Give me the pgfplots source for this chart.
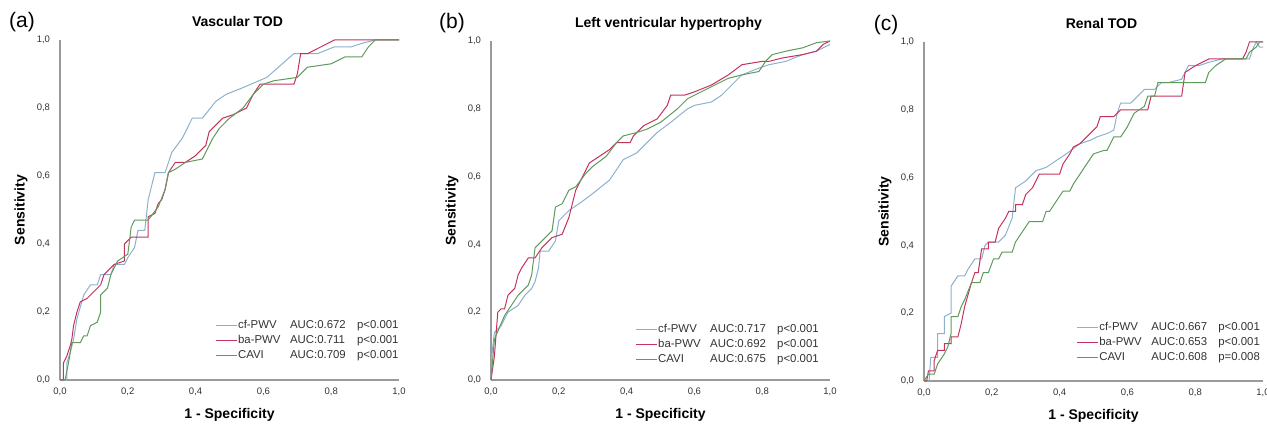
\documentclass[border=0pt]{standalone}
\usepackage{pgfplots}
\pgfplotsset{compat=1.18}
\usepackage{fontspec}
\setmainfont{Liberation Sans}
\definecolor{cfc}{HTML}{8DB0CC}
\definecolor{bac}{HTML}{C4325E}
\definecolor{cac}{HTML}{5E9A5C}
\definecolor{axc}{HTML}{9A9A9A}
\definecolor{txc}{HTML}{333333}
\pgfplotsset{
  rocax/.style={
    scale only axis, anchor=south west, clip=false,
    xmin=0, xmax=1, ymin=0, ymax=1,
    axis lines*=left,
    axis line style={axc, line width=1.1pt},
    major tick length=0pt,
    xtick={0,0.2,0.4,0.6,0.8,1}, ytick={0,0.2,0.4,0.6,0.8,1},
    /pgf/number format/.cd, assume math mode=true, use comma, fixed, fixed zerofill, precision=1, /pgfplots/.cd,
    tick label style={font=\fontsize{9.5}{11}\selectfont, text=txc},
    xticklabel style={yshift=-4.5pt},
    yticklabel style={xshift=-6.5pt},
    title style={at={(rel axis cs:0.5,1)}, anchor=base, yshift=7pt, xshift=8pt, font=\bfseries\fontsize{14}{16}\selectfont},
    xlabel style={at={(axis description cs:0.5,-0.103)}, anchor=center, font=\bfseries\fontsize{14}{16}\selectfont},
    ylabel style={at={(axis description cs:-0.115,0.5)}, anchor=center, font=\bfseries\fontsize{14}{16}\selectfont},
    xlabel={1 - Specificity}, ylabel={Sensitivity},
    legend cell align=left,
    legend image code/.code={\draw[#1] (0pt,0pt) -- (21pt,0pt);},
    legend style={draw=none, fill=none, font=\fontsize{11.4}{13}\selectfont, text=txc,
      nodes={inner sep=1pt, text height=8pt, text depth=2.5pt}, row sep=2.5pt},
  },
  cf/.style={cfc, line width=1pt},
  ba/.style={bac, line width=1pt},
  ca/.style={cac, line width=1pt},
}
\newcommand{\legrow}[3]{\makebox[52pt][l]{#1}\makebox[67pt][l]{#2}#3}
\begin{document}
\begin{tikzpicture}
\useasboundingbox (0,0) rectangle (1267pt,425pt);
% ---------------- (a)
\begin{axis}[rocax, at={(60pt,45pt)}, width=339pt, height=340pt, title={Vascular TOD},
  legend style={at={(rel axis cs:0.448,0.185)}, anchor=north west}]
\addplot[cf] coordinates {(0,0)(0.02,0)(0.02,0.05)(0.03,0.08)(0.04,0.12)(0.05,0.18)(0.07,0.25)(0.09,0.28)(0.11,0.28)(0.12,0.31)(0.15,0.31)(0.16,0.34)(0.19,0.34)(0.2,0.36)(0.22,0.39)(0.23,0.44)(0.25,0.44)(0.26,0.53)(0.27,0.57)(0.28,0.61)(0.31,0.61)(0.33,0.67)(0.36,0.71)(0.39,0.77)(0.42,0.77)(0.46,0.82)(0.49,0.84)(0.54,0.86)(0.61,0.89)(0.69,0.96)(0.76,0.96)(0.81,0.98)(0.86,0.98)(0.89,0.99)(0.93,1.0)(1,1)};
\addplot[ba] coordinates {(0,0)(0.01,0)(0.01,0.05)(0.02,0.07)(0.03,0.10)(0.035,0.12)(0.04,0.16)(0.05,0.20)(0.06,0.23)(0.08,0.24)(0.09,0.25)(0.11,0.27)(0.12,0.28)(0.13,0.31)(0.16,0.34)(0.19,0.35)(0.19,0.40)(0.21,0.42)(0.26,0.42)(0.26,0.48)(0.28,0.49)(0.29,0.52)(0.30,0.53)(0.31,0.56)(0.32,0.61)(0.34,0.64)(0.37,0.64)(0.40,0.66)(0.43,0.69)(0.44,0.73)(0.46,0.75)(0.48,0.77)(0.51,0.78)(0.55,0.80)(0.57,0.84)(0.59,0.87)(0.63,0.87)(0.69,0.87)(0.70,0.90)(0.71,0.96)(0.73,0.96)(0.79,0.99)(0.81,1.0)(1,1)};
\addplot[ca] coordinates {(0,0)(0.015,0)(0.025,0.05)(0.03,0.08)(0.035,0.11)(0.06,0.11)(0.07,0.13)(0.08,0.13)(0.09,0.16)(0.11,0.17)(0.12,0.20)(0.12,0.25)(0.14,0.27)(0.15,0.31)(0.17,0.35)(0.2,0.37)(0.21,0.45)(0.22,0.47)(0.26,0.47)(0.29,0.51)(0.31,0.56)(0.32,0.61)(0.34,0.62)(0.37,0.64)(0.42,0.65)(0.45,0.71)(0.47,0.74)(0.50,0.77)(0.54,0.80)(0.57,0.84)(0.60,0.87)(0.63,0.88)(0.70,0.89)(0.73,0.92)(0.80,0.93)(0.84,0.95)(0.89,0.95)(0.91,0.98)(0.93,1.0)(1,1)};
\legend{\legrow{cf-PWV}{AUC:0.672}{p<0.001},\legrow{ba-PWV}{AUC:0.711}{p<0.001},\legrow{CAVI}{AUC:0.709}{p<0.001}}
\node[font=\fontsize{21}{24}\selectfont] at (rel axis cs:-0.112,1.053) {(a)};
\end{axis}
% ---------------- (b)
\begin{axis}[rocax, at={(491pt,45pt)}, width=339pt, height=339pt, title={Left ventricular hypertrophy},
  legend style={at={(rel axis cs:0.416,0.174)}, anchor=north west}]
\addplot[cf] coordinates {(0,0)(0.002,0.07)(0.01,0.14)(0.03,0.16)(0.05,0.2)(0.08,0.22)(0.1,0.25)(0.12,0.27)(0.13,0.29)(0.14,0.33)(0.145,0.38)(0.17,0.38)(0.19,0.41)(0.2,0.47)(0.23,0.50)(0.26,0.52)(0.30,0.55)(0.35,0.59)(0.39,0.65)(0.43,0.67)(0.46,0.70)(0.49,0.73)(0.53,0.76)(0.58,0.80)(0.60,0.81)(0.65,0.82)(0.68,0.84)(0.74,0.90)(0.79,0.92)(0.82,0.93)(0.87,0.94)(0.92,0.96)(0.96,0.97)(0.99,0.985)(1,0.99)};
\addplot[ba] coordinates {(0,0)(0.01,0.07)(0.02,0.2)(0.03,0.21)(0.04,0.21)(0.05,0.25)(0.07,0.27)(0.08,0.31)(0.09,0.33)(0.11,0.36)(0.13,0.36)(0.15,0.39)(0.18,0.42)(0.21,0.43)(0.23,0.48)(0.25,0.56)(0.27,0.60)(0.29,0.64)(0.32,0.66)(0.35,0.68)(0.37,0.70)(0.41,0.70)(0.42,0.72)(0.45,0.75)(0.49,0.77)(0.52,0.81)(0.53,0.84)(0.57,0.84)(0.60,0.85)(0.65,0.87)(0.70,0.90)(0.74,0.93)(0.80,0.94)(0.82,0.94)(0.86,0.95)(0.92,0.96)(0.96,0.97)(0.98,0.99)(1,1)};
\addplot[ca] coordinates {(0,0)(0.01,0.12)(0.04,0.19)(0.06,0.22)(0.08,0.25)(0.11,0.28)(0.12,0.31)(0.13,0.39)(0.15,0.41)(0.18,0.44)(0.19,0.51)(0.21,0.52)(0.23,0.56)(0.25,0.57)(0.28,0.61)(0.30,0.63)(0.34,0.66)(0.37,0.70)(0.39,0.72)(0.43,0.73)(0.46,0.74)(0.50,0.76)(0.55,0.80)(0.58,0.83)(0.62,0.85)(0.66,0.87)(0.70,0.89)(0.74,0.90)(0.79,0.91)(0.81,0.94)(0.83,0.96)(0.87,0.97)(0.92,0.98)(0.96,0.995)(1,1)};
\legend{\legrow{cf-PWV}{AUC:0.717}{p<0.001},\legrow{ba-PWV}{AUC:0.692}{p<0.001},\legrow{CAVI}{AUC:0.675}{p<0.001}}
\node[font=\fontsize{21}{24}\selectfont] at (rel axis cs:-0.115,1.053) {(b)};
\end{axis}
% ---------------- (c)
\begin{axis}[rocax, at={(924pt,44pt)}, width=339pt, height=339pt, title={Renal TOD},
  legend style={at={(rel axis cs:0.44,0.183)}, anchor=north west}]
\addplot[cf] coordinates {(0,0)(0.015,0)(0.02,0.07)(0.04,0.07)(0.04,0.14)(0.06,0.14)(0.06,0.19)(0.08,0.20)(0.08,0.28)(0.10,0.31)(0.12,0.31)(0.13,0.33)(0.15,0.36)(0.17,0.36)(0.18,0.40)(0.19,0.41)(0.22,0.41)(0.24,0.43)(0.26,0.48)(0.27,0.57)(0.30,0.59)(0.33,0.62)(0.36,0.63)(0.39,0.65)(0.42,0.67)(0.46,0.70)(0.49,0.71)(0.51,0.72)(0.54,0.73)(0.56,0.74)(0.57,0.79)(0.58,0.82)(0.61,0.82)(0.65,0.86)(0.68,0.86)(0.70,0.88)(0.72,0.88)(0.76,0.89)(0.78,0.93)(0.81,0.93)(0.84,0.94)(0.88,0.95)(0.91,0.95)(0.96,0.95)(0.97,0.98)(0.98,1.0)(0.99,0.985)(1,0.985)};
\addplot[ba] coordinates {(0,0)(0.008,0)(0.013,0.03)(0.03,0.03)(0.03,0.06)(0.04,0.09)(0.06,0.09)(0.06,0.11)(0.08,0.11)(0.08,0.13)(0.10,0.13)(0.11,0.17)(0.12,0.22)(0.14,0.29)(0.15,0.32)(0.16,0.32)(0.17,0.39)(0.19,0.39)(0.19,0.41)(0.21,0.41)(0.22,0.45)(0.24,0.48)(0.25,0.50)(0.27,0.50)(0.27,0.52)(0.29,0.52)(0.30,0.55)(0.32,0.57)(0.34,0.61)(0.40,0.61)(0.41,0.64)(0.43,0.67)(0.44,0.69)(0.46,0.70)(0.47,0.71)(0.49,0.73)(0.51,0.75)(0.52,0.78)(0.56,0.78)(0.58,0.80)(0.66,0.80)(0.67,0.84)(0.70,0.84)(0.76,0.84)(0.77,0.91)(0.80,0.93)(0.84,0.95)(0.94,0.95)(0.95,0.97)(0.96,1.0)(1,1)};
\addplot[ca] coordinates {(0,0)(0.013,0.02)(0.03,0.02)(0.04,0.05)(0.06,0.08)(0.07,0.10)(0.08,0.14)(0.08,0.19)(0.10,0.19)(0.11,0.22)(0.12,0.24)(0.14,0.29)(0.165,0.29)(0.175,0.32)(0.19,0.32)(0.205,0.36)(0.22,0.36)(0.23,0.38)(0.26,0.38)(0.27,0.41)(0.29,0.44)(0.31,0.47)(0.35,0.47)(0.36,0.50)(0.37,0.50)(0.39,0.53)(0.41,0.56)(0.43,0.56)(0.44,0.58)(0.46,0.61)(0.48,0.64)(0.50,0.67)(0.53,0.68)(0.54,0.68)(0.56,0.72)(0.58,0.72)(0.60,0.75)(0.62,0.79)(0.65,0.81)(0.66,0.84)(0.68,0.84)(0.69,0.88)(0.72,0.88)(0.76,0.88)(0.83,0.88)(0.84,0.91)(0.86,0.93)(0.89,0.95)(0.95,0.95)(0.96,0.97)(0.98,0.985)(0.99,1)(1,1)};
\legend{\legrow{cf-PWV}{AUC:0.667}{p<0.001},\legrow{ba-PWV}{AUC:0.653}{p<0.001},\legrow{CAVI}{AUC:0.608}{p=0.008}}
\node[font=\fontsize{21}{24}\selectfont] at (rel axis cs:-0.112,1.05) {(c)};
\end{axis}
\end{tikzpicture}
\end{document}
